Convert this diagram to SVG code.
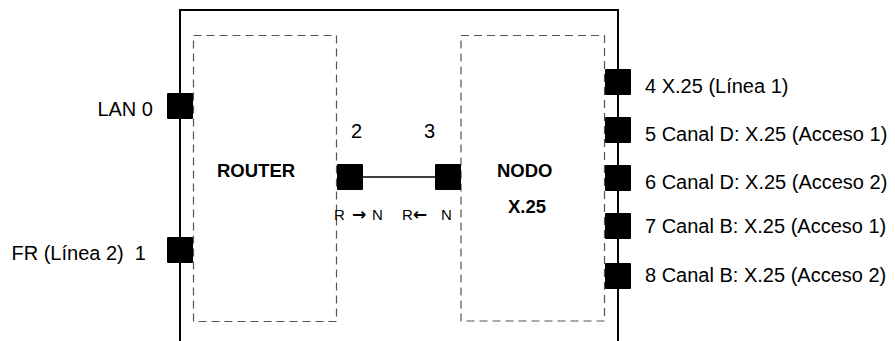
<svg xmlns="http://www.w3.org/2000/svg" width="895" height="341" viewBox="0 0 895 341">
<style>
  .lbl { font-family: "Liberation Sans", Arial, sans-serif; font-size: 20px; fill: #000; }
  .small { font-family: "Liberation Sans", Arial, sans-serif; font-size: 15px; fill: #000; }
  .arr { font-family: "DejaVu Sans", sans-serif; font-size: 17px; font-weight: bold; }
  .bold { font-family: "Liberation Sans", Arial, sans-serif; font-size: 18.5px; font-weight: bold; fill: #000; }
  .frame { fill: none; stroke: #000; stroke-width: 2; }
  .dash { fill: none; stroke: #555; stroke-width: 1.2; stroke-dasharray: 8 5; }
  .port { fill: #000; }
  .wire { stroke: #000; stroke-width: 1.5; fill: none; }
</style>
<rect width="895" height="341" fill="#fff"/>
<path class="frame" d="M180,341 V10 H618 V341"/>
<g id="router">
  <rect class="dash" x="193.5" y="35.5" width="143" height="286"/>
  <text class="bold" x="217" y="177">ROUTER</text>
</g>
<g id="nodo">
  <rect class="dash" x="461" y="35.5" width="143.5" height="285.5"/>
  <text class="bold" x="497" y="177">NODO</text>
  <text class="bold" x="508" y="213">X.25</text>
</g>
<g id="port-lan0">
  <rect class="port" x="167" y="93" width="26" height="26" rx="1"/>
  <text class="lbl" x="153" y="116" text-anchor="end">LAN 0</text>
</g>
<g id="port-fr1">
  <rect class="port" x="167" y="237" width="26" height="26" rx="1"/>
  <text class="lbl" x="146" y="260" text-anchor="end" xml:space="preserve">FR (Línea 2)  1</text>
</g>
<g id="port-2">
  <rect class="port" x="337" y="164" width="26" height="26" rx="1"/>
  <text class="lbl" x="351" y="138">2</text>
  <text class="small" x="334" y="220">R <tspan class="arr" x="352">→</tspan><tspan x="372">N</tspan></text>
</g>
<g id="port-3">
  <rect class="port" x="435" y="164" width="26" height="26" rx="1"/>
  <text class="lbl" x="424" y="138">3</text>
  <text class="small" x="402" y="220">R<tspan class="arr" x="413">←</tspan><tspan x="441">N</tspan></text>
</g>
<g id="port-4">
  <rect class="port" x="605" y="69" width="26" height="26" rx="1"/>
  <text class="lbl" x="645" y="93">4 X.25 (Línea 1)</text>
</g>
<g id="port-5">
  <rect class="port" x="605" y="117" width="26" height="26" rx="1"/>
  <text class="lbl" x="645" y="141">5 Canal D: X.25 (Acceso 1)</text>
</g>
<g id="port-6">
  <rect class="port" x="605" y="165" width="26" height="26" rx="1"/>
  <text class="lbl" x="645" y="189">6 Canal D: X.25 (Acceso 2)</text>
</g>
<g id="port-7">
  <rect class="port" x="605" y="213" width="26" height="26" rx="1"/>
  <text class="lbl" x="645" y="233">7 Canal B: X.25 (Acceso 1)</text>
</g>
<g id="port-8">
  <rect class="port" x="605" y="263" width="26" height="26" rx="1"/>
  <text class="lbl" x="645" y="282">8 Canal B: X.25 (Acceso 2)</text>
</g>
<g id="connectors">
  <line class="wire" x1="363" y1="177" x2="435" y2="177"/>
</g>
</svg>
